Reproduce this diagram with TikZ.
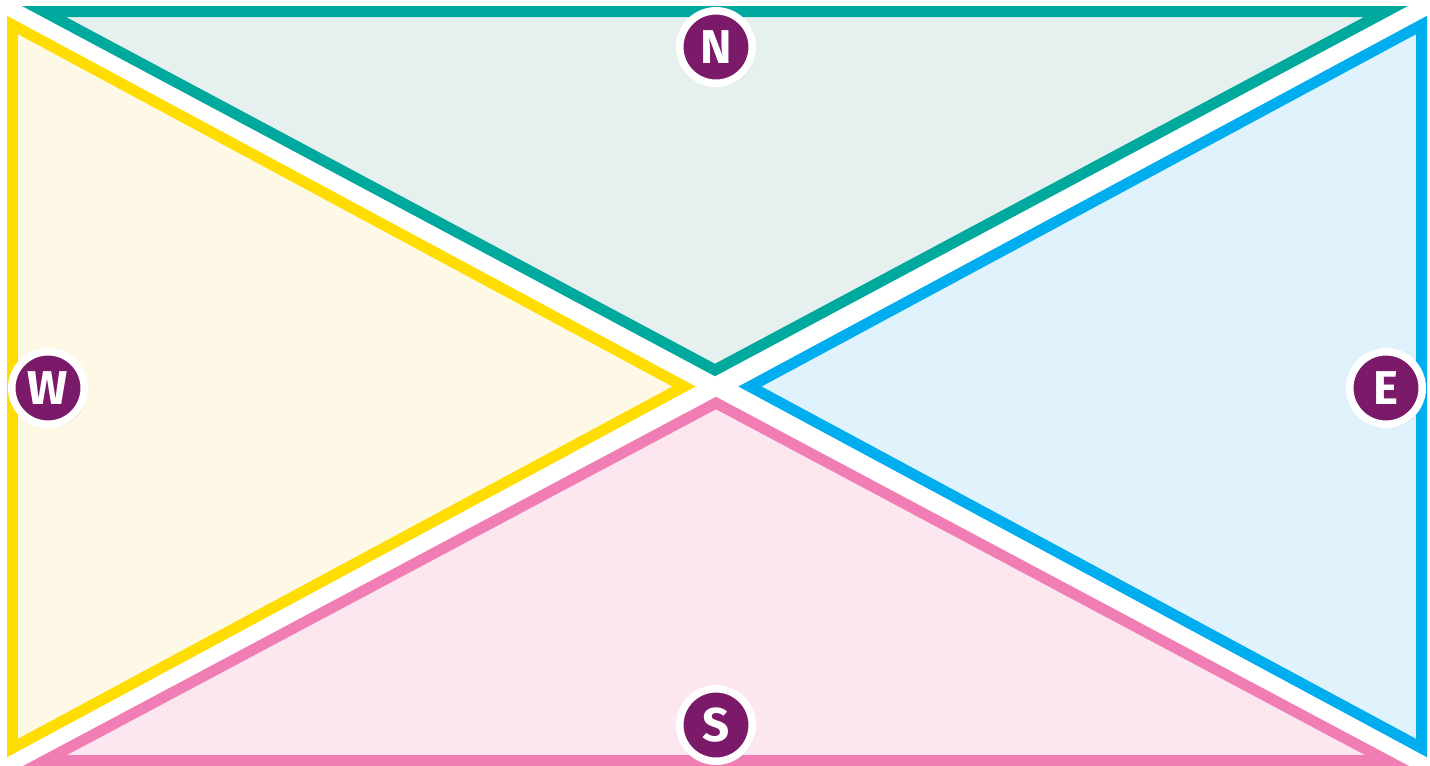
\documentclass[tikz,border=0pt]{standalone}
\usepackage{fontspec}
\usepackage{tikz}
\usetikzlibrary{shadows}
\newfontfamily\badgefont{Fira Sans}
\definecolor{northline}{HTML}{00A99D}
\definecolor{northfill}{HTML}{E6F0EE}
\definecolor{westline}{HTML}{FFDD00}
\definecolor{westfill}{HTML}{FEF8E7}
\definecolor{eastline}{HTML}{00AEEF}
\definecolor{eastfill}{HTML}{E0F2FB}
\definecolor{southline}{HTML}{F07EB4}
\definecolor{southfill}{HTML}{FCE6F0}
\definecolor{badge}{HTML}{7C1A6A}

\begin{document}
\begin{tikzpicture}[x=0.02cm, y=-0.02cm,
  tri/.style={line width=0.22cm, line join=miter},
  compass/.style={circle, fill=badge, draw=white, line width=0.15cm,
    minimum size=1.45cm, inner sep=0pt, text=white,
    font=\badgefont\bfseries\fontsize{27}{27}\selectfont,
    drop shadow={opacity=0.25, shadow xshift=0.06cm, shadow yshift=-0.06cm}}]
  % canvas
  \fill[white] (0,0) rectangle (1430,765);
  \useasboundingbox (0,0) rectangle (1430,765);
  % four triangles round the centre
  \filldraw[tri, draw=northline, fill=northfill] (44,11.5) -- (715,370) -- (1386,11.5) -- cycle;
  \filldraw[tri, draw=westline, fill=westfill] (12.5,25) -- (684,386.5) -- (12.5,748) -- cycle;
  \filldraw[tri, draw=eastline, fill=eastfill] (1421.5,25) -- (750,386.5) -- (1421.5,748) -- cycle;
  \filldraw[tri, draw=southline, fill=southfill] (45,760.5) -- (716,403) -- (1387,760.5) -- cycle;
  % compass badges
  \node[compass] (north) at (716,47) {N};
  \node[compass] (west) at (48,388) {W};
  \node[compass] (east) at (1386,388) {E};
  \node[compass] (south) at (716,725) {S};
\end{tikzpicture}
\end{document}
